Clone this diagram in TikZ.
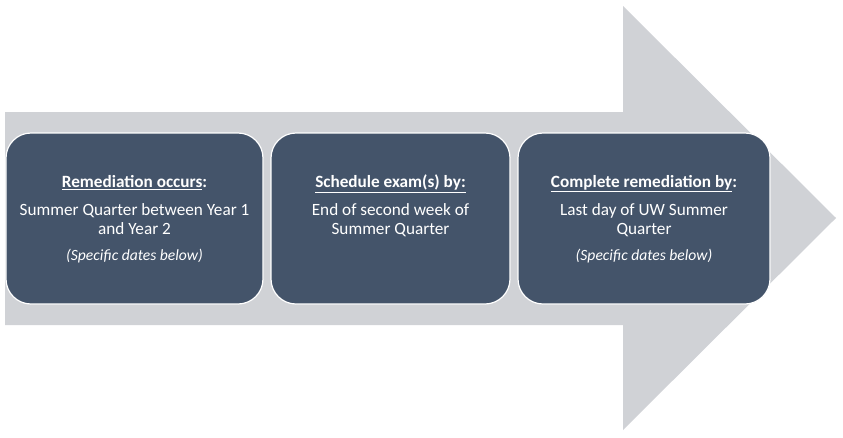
\documentclass[tikz,border=0pt]{standalone}
\usepackage{fontspec}
\setmainfont{Carlito}
\usepackage{tikz}
\usetikzlibrary{positioning}
\definecolor{arrowgray}{HTML}{D0D2D6}
\definecolor{boxblue}{HTML}{44546A}

\begin{document}
\begin{tikzpicture}[x=1pt,y=-1pt,
  stepbox/.style={draw=white,line width=1.2pt,fill=boxblue,rounded corners=25pt,minimum height=171pt,inner sep=0pt,outer sep=0pt},
  boxtext/.style={anchor=north,align=center,text=white,inner sep=0pt,font=\fontsize{17.2}{19}\selectfont}
]
\useasboundingbox (0,0) rectangle (843,437);
\fill[arrowgray] (5,112) -- (623,112) -- (623,6) -- (836,218) -- (623,430) -- (623,325) -- (5,325) -- cycle;
\node[stepbox,minimum width=257pt] (occurs) at (134.5,218.5) {};
\node[stepbox,minimum width=239pt,right=8pt of occurs] (schedule) {};
\node[stepbox,minimum width=252pt,right=8pt of schedule] (complete) {};
\node[boxtext] (occurstxt) at ([yshift=-42pt]occurs.north) {\underline{\textbf{Remediation occurs}}\textbf{:}\\[9pt]
  Summer Quarter between Year 1\\ and Year 2\\[7pt] {\fontsize{15.6}{18}\selectfont\itshape (Specific dates below)}};
\node[boxtext] (scheduletxt) at ([yshift=-42pt]schedule.north) {\underline{\textbf{Schedule exam(s) by:}}\\[9pt]
  End of second week of\\ Summer Quarter};
\node[boxtext] (completetxt) at ([yshift=-42pt]complete.north) {\underline{\textbf{Complete remediation by}}\textbf{:}\\[9pt]
  Last day of UW Summer\\ Quarter\\[7pt] {\fontsize{15.6}{18}\selectfont\itshape (Specific dates below)}};
\end{tikzpicture}
\end{document}
